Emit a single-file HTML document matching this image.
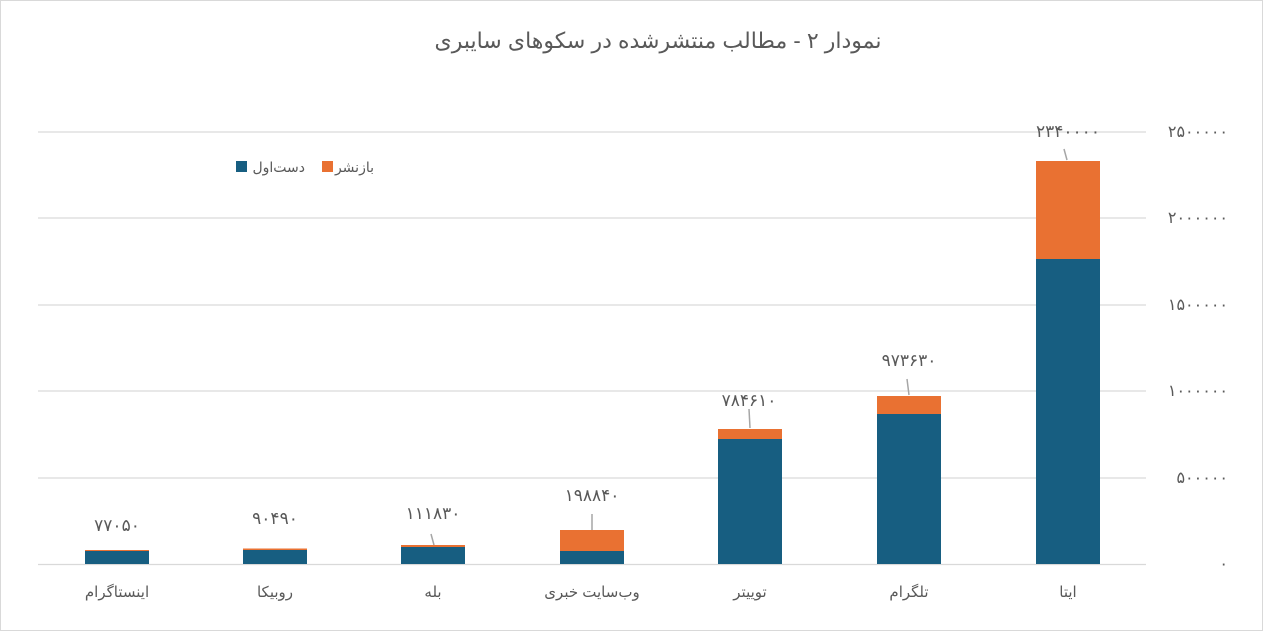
<!DOCTYPE html>
<html><head><meta charset="utf-8"><style>
html,body{margin:0;padding:0;background:#fff}
svg{display:block}
text{font-family:"Liberation Sans","DejaVu Sans",sans-serif;fill:#595959}
</style></head><body>
<svg width="1263" height="631" viewBox="0 0 1263 631" xmlns="http://www.w3.org/2000/svg">
<rect x="0.5" y="0.5" width="1262" height="630" fill="#fff" stroke="#d9d9d9"/>
<text x="658" y="48" font-size="22" text-anchor="middle" direction="rtl">نمودار ۲ - مطالب منتشرشده در سکوهای سایبری</text>
<g stroke="#d9d9d9" stroke-width="1.3">
<line x1="38" y1="132" x2="1146" y2="132"/>
<line x1="38" y1="218" x2="1146" y2="218"/>
<line x1="38" y1="305" x2="1146" y2="305"/>
<line x1="38" y1="391" x2="1146" y2="391"/>
<line x1="38" y1="478" x2="1146" y2="478"/>
<line x1="38" y1="564.5" x2="1146" y2="564.5"/>
</g>
<g font-size="16" text-anchor="end">
<text x="1228" y="137">۲۵۰۰۰۰۰</text>
<text x="1228" y="223">۲۰۰۰۰۰۰</text>
<text x="1228" y="310">۱۵۰۰۰۰۰</text>
<text x="1228" y="396">۱۰۰۰۰۰۰</text>
<text x="1228" y="483">۵۰۰۰۰۰</text>
<text x="1228" y="569">۰</text>
</g>
<!-- legend -->
<rect x="236" y="161" width="11" height="11" fill="#175e81"/>
<text x="305" y="172" font-size="14" text-anchor="start" direction="rtl">دست‌اول</text>
<rect x="322" y="161" width="11" height="11" fill="#e97132"/>
<text x="374" y="172" font-size="14" text-anchor="start" direction="rtl">بازنشر</text>
<!-- bars -->
<g>
<rect x="1036" y="161" width="64" height="98" fill="#e97132"/><rect x="1036" y="259" width="64" height="305" fill="#175e81"/>
<rect x="877" y="396" width="64" height="18" fill="#e97132"/><rect x="877" y="414" width="64" height="150" fill="#175e81"/>
<rect x="718" y="429" width="64" height="10" fill="#e97132"/><rect x="718" y="439" width="64" height="125" fill="#175e81"/>
<rect x="560" y="530" width="64" height="21" fill="#e97132"/><rect x="560" y="551" width="64" height="13" fill="#175e81"/>
<rect x="401" y="545" width="64" height="2" fill="#e97132"/><rect x="401" y="547" width="64" height="17" fill="#175e81"/>
<rect x="243" y="548.5" width="64" height="1.5" fill="#e97132"/><rect x="243" y="550" width="64" height="14" fill="#175e81"/>
<rect x="85" y="550" width="64" height="1" fill="#e97132"/><rect x="85" y="551" width="64" height="13" fill="#175e81"/>
</g>
<g stroke="#a6a6a6" stroke-width="1.5">
<line x1="1064" y1="149" x2="1067" y2="160"/>
<line x1="907" y1="379" x2="909" y2="395"/>
<line x1="749" y1="409" x2="750" y2="428"/>
<line x1="592" y1="514" x2="592" y2="530"/>
<line x1="431" y1="534" x2="434" y2="545"/>
</g>
<g font-size="17" text-anchor="middle">
<text x="1068" y="137">۲۳۴۰۰۰۰</text>
<text x="909" y="366">۹۷۳۶۳۰</text>
<text x="749" y="406">۷۸۴۶۱۰</text>
<text x="592" y="501">۱۹۸۸۴۰</text>
<text x="433" y="519">۱۱۱۸۳۰</text>
<text x="275" y="524">۹۰۴۹۰</text>
<text x="117" y="531">۷۷۰۵۰</text>
</g>
<g font-size="15" text-anchor="middle" direction="rtl">
<text x="1068" y="597">ایتا</text>
<text x="909" y="597">تلگرام</text>
<text x="750" y="597">توییتر</text>
<text x="592" y="597">وب‌سایت خبری</text>
<text x="433" y="597">بله</text>
<text x="275" y="597">روبیکا</text>
<text x="117" y="597">اینستاگرام</text>
</g>
</svg>
</body></html>
